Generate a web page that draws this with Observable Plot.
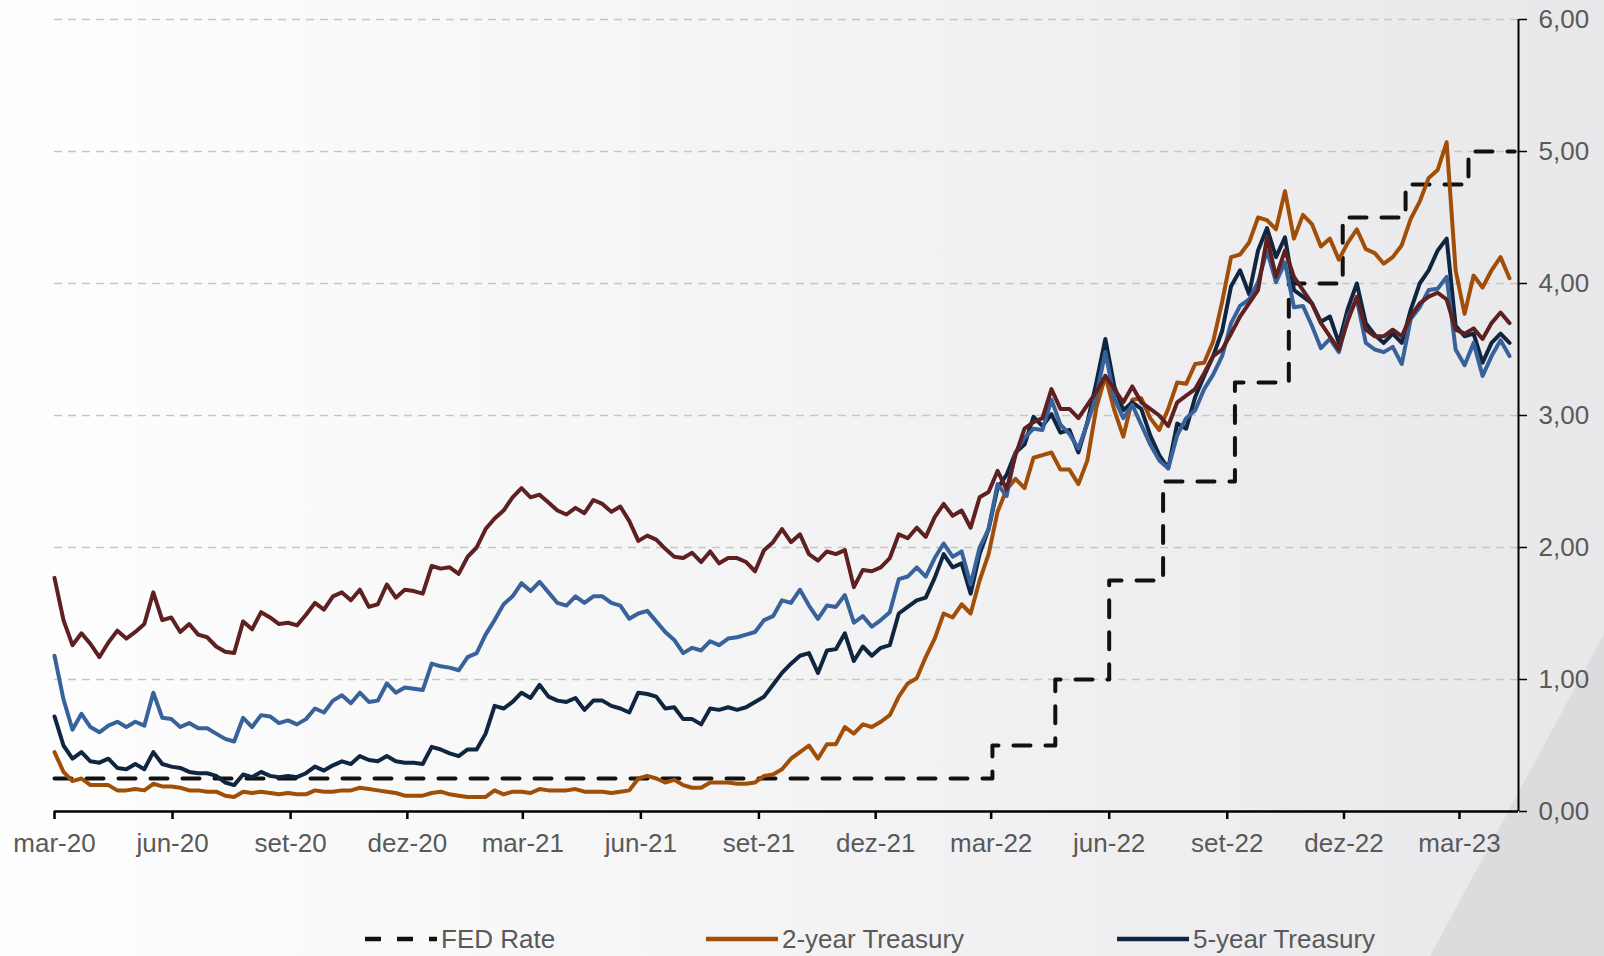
<!DOCTYPE html>
<html><head><meta charset="utf-8">
<script src="https://cdn.jsdelivr.net/npm/d3@7"></script>
<script src="https://cdn.jsdelivr.net/npm/@observablehq/plot@0.6"></script>
<style>
html,body{margin:0;padding:0;}
body{width:1604px;height:956px;overflow:hidden;position:relative;font-family:"Liberation Sans",Arial,sans-serif;
background:linear-gradient(90deg,#fefefe 0%,#f7f7f8 35%,#eeeef0 75%,#e8e8ea 100%);}
#deco{position:absolute;left:0;top:0;width:1604px;height:956px;background:#dcdcde;clip-path:polygon(1604px 634px,1604px 956px,1430px 956px);}
#chart{position:absolute;left:0;top:0;}
#legend{position:absolute;top:922px;left:0;width:1604px;height:34px;}
.item{position:absolute;top:0;height:34px;display:flex;align-items:center;font-size:26px;color:#595959;white-space:nowrap;}
.item svg{display:block;margin-right:4px;}
</style>
</head>
<body>
<div id="deco"></div>
<div id="chart"></div>
<div id="legend"></div>
<script>
// ---- data (weekly, Mondays from 2020-03-16) ----
const startDay = "2020-03-16";
const endDay = "2023-05-01";
const y2 = [
0.45,0.30,0.23,0.25,0.20,0.20,0.20,0.16,0.16,0.17,
0.16,0.21,0.19,0.19,0.18,0.16,0.16,0.15,0.15,0.12,
0.11,0.15,0.14,0.15,0.14,0.13,0.14,0.13,0.13,0.16,
0.15,0.15,0.16,0.16,0.18,0.17,0.16,0.15,0.14,0.12,
0.12,0.12,0.14,0.15,0.13,0.12,0.11,0.11,0.11,0.16,
0.13,0.15,0.15,0.14,0.17,0.16,0.16,0.16,0.17,0.15,
0.15,0.15,0.14,0.15,0.16,0.25,0.27,0.25,0.22,0.24,
0.20,0.18,0.18,0.22,0.22,0.22,0.21,0.21,0.22,0.27,
0.28,0.32,0.40,0.45,0.50,0.40,0.51,0.51,0.64,0.59,
0.66,0.64,0.68,0.73,0.87,0.97,1.01,1.17,1.31,1.50,
1.47,1.57,1.50,1.75,1.95,2.27,2.44,2.52,2.45,2.68,
2.70,2.72,2.59,2.59,2.48,2.66,3.06,3.30,3.04,2.84,
3.12,3.13,2.98,2.89,3.05,3.25,3.24,3.39,3.40,3.56,
3.86,4.20,4.22,4.31,4.50,4.48,4.41,4.70,4.34,4.52,
4.45,4.28,4.34,4.18,4.31,4.41,4.26,4.23,4.15,4.20,
4.29,4.49,4.62,4.80,4.86,5.07,4.10,3.77,4.06,3.97,
4.10,4.20,4.04];
const y5 = [
0.72,0.50,0.40,0.45,0.38,0.37,0.40,0.33,0.32,0.36,
0.32,0.45,0.36,0.34,0.33,0.30,0.29,0.29,0.27,0.22,
0.20,0.28,0.26,0.30,0.27,0.26,0.27,0.26,0.29,0.34,
0.31,0.35,0.38,0.36,0.42,0.39,0.38,0.42,0.38,0.37,
0.37,0.36,0.49,0.47,0.44,0.42,0.47,0.47,0.59,0.80,
0.78,0.83,0.90,0.86,0.96,0.87,0.84,0.83,0.86,0.77,
0.84,0.84,0.80,0.78,0.75,0.90,0.89,0.87,0.78,0.79,
0.70,0.70,0.66,0.78,0.77,0.79,0.77,0.79,0.83,0.87,
0.96,1.05,1.12,1.18,1.20,1.05,1.22,1.23,1.35,1.14,
1.25,1.18,1.24,1.26,1.50,1.55,1.60,1.62,1.77,1.95,
1.85,1.88,1.65,1.95,2.14,2.45,2.55,2.72,2.78,2.99,
2.92,3.01,2.87,2.89,2.72,2.95,3.25,3.58,3.22,3.04,
3.10,3.05,2.85,2.70,2.60,2.94,2.90,3.14,3.30,3.45,
3.64,3.98,4.10,3.92,4.25,4.42,4.20,4.35,3.95,3.90,
3.85,3.71,3.75,3.55,3.81,4.00,3.70,3.61,3.55,3.62,
3.55,3.80,4.00,4.10,4.25,4.34,3.68,3.60,3.62,3.40,
3.55,3.62,3.55];
const y10 = [
1.18,0.85,0.62,0.74,0.64,0.60,0.65,0.68,0.64,0.68,
0.65,0.90,0.71,0.70,0.64,0.67,0.63,0.63,0.59,0.55,
0.53,0.71,0.64,0.73,0.72,0.67,0.69,0.66,0.70,0.78,
0.75,0.84,0.88,0.82,0.90,0.83,0.84,0.97,0.90,0.94,
0.93,0.92,1.12,1.10,1.09,1.07,1.17,1.20,1.34,1.45,
1.57,1.63,1.73,1.67,1.74,1.66,1.58,1.56,1.63,1.58,
1.63,1.63,1.58,1.56,1.46,1.50,1.52,1.44,1.36,1.30,
1.20,1.24,1.22,1.29,1.26,1.31,1.32,1.34,1.36,1.45,
1.48,1.60,1.58,1.68,1.56,1.46,1.56,1.55,1.64,1.43,
1.48,1.40,1.45,1.51,1.76,1.78,1.85,1.78,1.92,2.03,
1.93,1.97,1.72,2.00,2.14,2.48,2.39,2.72,2.83,2.90,
2.89,3.12,2.93,2.86,2.75,2.94,3.15,3.48,3.13,2.98,
3.08,2.93,2.78,2.66,2.60,2.85,2.98,3.04,3.20,3.31,
3.45,3.70,3.83,3.88,4.01,4.25,4.01,4.16,3.82,3.83,
3.68,3.51,3.58,3.48,3.75,3.88,3.55,3.50,3.48,3.52,
3.39,3.73,3.82,3.95,3.96,4.05,3.50,3.38,3.55,3.30,
3.45,3.57,3.45];
const y30 = [
1.77,1.45,1.26,1.35,1.27,1.17,1.28,1.37,1.31,1.36,
1.42,1.66,1.45,1.47,1.36,1.42,1.34,1.32,1.25,1.21,
1.20,1.44,1.38,1.51,1.47,1.42,1.43,1.41,1.49,1.58,
1.53,1.63,1.66,1.60,1.68,1.55,1.57,1.72,1.62,1.68,
1.67,1.65,1.86,1.84,1.85,1.80,1.93,2.00,2.14,2.22,
2.28,2.38,2.45,2.38,2.40,2.34,2.28,2.25,2.30,2.26,
2.36,2.33,2.27,2.31,2.20,2.05,2.09,2.06,1.99,1.93,
1.92,1.96,1.89,1.97,1.88,1.92,1.92,1.89,1.82,1.98,
2.04,2.14,2.04,2.10,1.95,1.90,1.97,1.95,1.98,1.70,
1.83,1.82,1.85,1.92,2.10,2.07,2.15,2.08,2.23,2.33,
2.24,2.28,2.15,2.38,2.42,2.58,2.44,2.70,2.90,2.95,
2.98,3.20,3.05,3.05,2.98,3.08,3.18,3.30,3.20,3.10,
3.22,3.10,3.05,3.00,2.92,3.10,3.15,3.20,3.32,3.45,
3.50,3.62,3.75,3.85,3.95,4.35,4.05,4.25,4.05,3.95,
3.85,3.70,3.60,3.50,3.72,3.90,3.65,3.60,3.60,3.65,
3.60,3.75,3.85,3.90,3.93,3.88,3.65,3.62,3.66,3.58,
3.70,3.78,3.70];
const fedDates = ["2020-03-16","2022-03-17","2022-05-05","2022-06-16","2022-07-28","2022-09-22","2022-11-03","2022-12-15","2023-02-02","2023-03-23","2023-04-28"];
const fedValues = [0.25,0.50,1.00,1.75,2.50,3.25,4.00,4.50,4.75,5.00,5.00];
const xTickDates = ["2020-03-16","2020-06-16","2020-09-16","2020-12-16","2021-03-16","2021-06-16","2021-09-16","2021-12-16","2022-03-16","2022-06-16","2022-09-16","2022-12-16","2023-03-16"];
const xTickLabels = ["mar-20","jun-20","set-20","dez-20","mar-21","jun-21","set-21","dez-21","mar-22","jun-22","set-22","dez-22","mar-23"];
const yTicks = [0,1,2,3,4,5,6];
const seriesNames = ["FED Rate","2-year Treasury","5-year Treasury","10-year Treasury","30-year Treasury"];
const seriesColors = ["#111111","#A04E08","#0F2540","#37629A","#5E2020"];

// ---- build ----
const parse = d3.utcParse("%Y-%m-%d");
const x0 = parse(startDay), x1 = parse(endDay);
const weekDates = y2.map((_, i) => d3.utcDay.offset(x0, 7 * i));
const toRows = vals => vals.map((v, i) => ({date: weekDates[i], v}));
const fedRows = fedDates.map((d, i) => ({date: parse(d), v: fedValues[i]}));
const tickDates = xTickDates.map(parse);
const labelOf = new Map(tickDates.map((d, i) => [+d, xTickLabels[i]]));
const font = "'Liberation Sans', Arial, sans-serif";

const lineOpts = (color) => ({x: "date", y: "v", stroke: color, strokeWidth: 4, strokeLinejoin: "round", strokeLinecap: "round"});

const chart = Plot.plot({
  width: 1604, height: 885,
  marginLeft: 54, marginRight: 86, marginTop: 19, marginBottom: 74,
  style: {background: "transparent", fontFamily: font, fontSize: "26px", color: "#595959"},
  x: {type: "utc", domain: [x0, x1], label: null},
  y: {domain: [0, 6], label: null},
  marks: [
    Plot.ruleY([1, 2, 3, 4, 5, 6], {stroke: "#c6c6c6", strokeWidth: 1.3, strokeDasharray: "8,6"}),
    Plot.line(fedRows, {x: "date", y: "v", curve: "step-after", stroke: seriesColors[0], strokeWidth: 4, strokeDasharray: "17,15"}),
    Plot.line(toRows(y2), lineOpts(seriesColors[1])),
    Plot.line(toRows(y5), lineOpts(seriesColors[2])),
    Plot.line(toRows(y10), lineOpts(seriesColors[3])),
    Plot.line(toRows(y30), lineOpts(seriesColors[4])),
    Plot.ruleY([0], {stroke: "#000", strokeWidth: 2.5}),
    Plot.ruleX([x1], {stroke: "#000", strokeWidth: 2}),
    Plot.axisX({ticks: tickDates, tickFormat: d => labelOf.get(+d), tickSize: 8, tickPadding: 14,
      stroke: "#000", strokeWidth: 2.5, fill: "#595959", fontSize: 26, anchor: "bottom"}),
    Plot.axisY({ticks: yTicks, tickFormat: d => d.toFixed(2).replace(".", ","), anchor: "right",
      tickSize: 8, tickPadding: 12, stroke: "#000", strokeWidth: 1.5, fill: "#595959", fontSize: 26})
  ]
});
document.getElementById("chart").appendChild(chart);
// make sure the intended stroke widths are used on every drawn series path
chart.querySelectorAll("g[aria-label='line']").forEach(g => {
  g.querySelectorAll("path").forEach(p => {
    if (!p.getAttribute("stroke-width") && !g.getAttribute("stroke-width")) p.setAttribute("stroke-width", "4");
  });
});

// ---- legend ----
const legend = document.getElementById("legend");
const legendItems = [
  {i: 0, left: 365, dash: "16,16"},
  {i: 1, left: 706, dash: null},
  {i: 2, left: 1117, dash: null}
];
for (const it of legendItems) {
  const div = document.createElement("div");
  div.className = "item";
  div.style.left = it.left + "px";
  const w = 72;
  div.innerHTML = `<svg width="${w}" height="10"><line x1="0" y1="5" x2="${w}" y2="5" stroke="${seriesColors[it.i]}" stroke-width="4.5" ${it.dash ? `stroke-dasharray="${it.dash}"` : ""}/></svg><span>${seriesNames[it.i]}</span>`;
  legend.appendChild(div);
}
</script>
</body></html>
